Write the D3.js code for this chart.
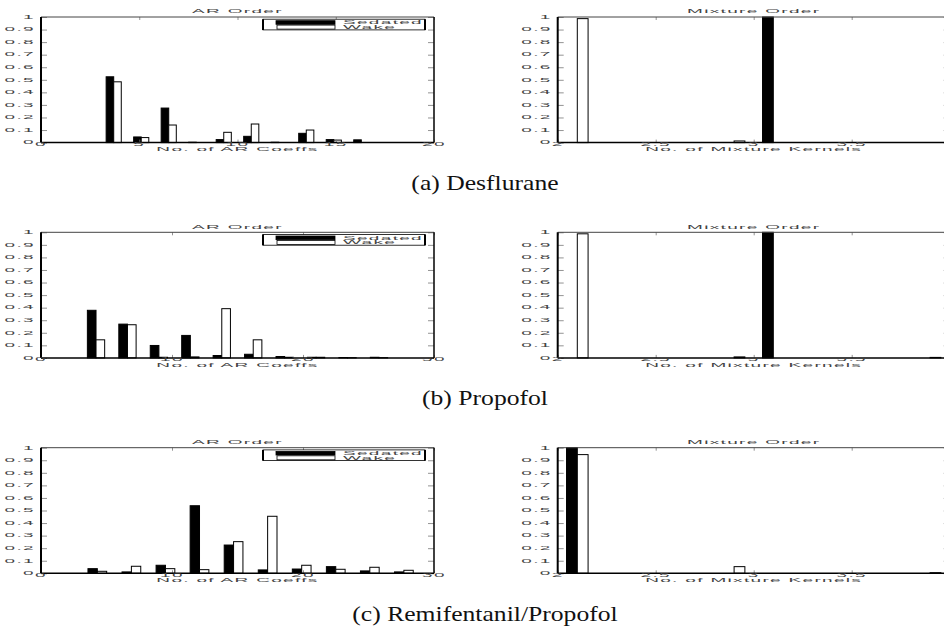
<!DOCTYPE html>
<html>
<head>
<meta charset="utf-8">
<script src="https://cdn.jsdelivr.net/npm/d3@7"></script>
<style>
    body { margin: 0; background: #fff; }
    svg { display: block; }
    .lbl { font-family: "Liberation Sans", Arial, sans-serif; font-size: 10px; fill: #444; letter-spacing: 0.7px; }
    .cap { font-family: "Liberation Serif", serif; font-size: 21px; fill: #111; }
</style>
</head>
<body>
<svg id="chart" width="944" height="630"></svg>
<script>
// --- data (histogram bin centres and relative frequencies) ---
const arBinsA = [3.7, 5.1, 6.5, 7.9, 9.3, 10.7, 12.1, 13.5, 14.9, 16.3];
const arSedatedA = [0.524, 0.045, 0.275, 0.003, 0.024, 0.050, 0.003, 0.074, 0.024, 0.022];
const arWakeA    = [0.484, 0.040, 0.140, 0.000, 0.082, 0.148, 0.000, 0.100, 0.020, 0.000];

const arBinsB = [4.2, 6.6, 9.0, 11.4, 13.8, 16.2, 18.6, 21.0, 23.4, 25.8];
const arSedatedB = [0.379, 0.269, 0.099, 0.179, 0.019, 0.029, 0.011, 0.005, 0.003, 0.005];
const arWakeB    = [0.144, 0.264, 0.005, 0.008, 0.392, 0.144, 0.005, 0.005, 0.002, 0.002];

const arBinsC = [4.3, 6.9, 9.5, 12.1, 14.7, 17.3, 19.9, 22.5, 25.1, 27.7];
const arSedatedC = [0.037, 0.011, 0.064, 0.538, 0.225, 0.027, 0.034, 0.053, 0.019, 0.011];
const arWakeC    = [0.016, 0.056, 0.037, 0.029, 0.252, 0.454, 0.064, 0.032, 0.048, 0.024];

const mixBins = [2.1, 2.3, 2.5, 2.7, 2.9, 3.1, 3.3, 3.5, 3.7, 3.9];
const mixSedatedA = [0, 0, 0, 0, 0, 1.0, 0, 0, 0, 0];
const mixWakeA    = [0.987, 0, 0, 0, 0.013, 0, 0, 0, 0, 0];
const mixSedatedB = [0, 0, 0, 0, 0, 1.0, 0, 0, 0, 0];
const mixWakeB    = [0.988, 0, 0, 0, 0.008, 0, 0, 0, 0, 0.004];
const mixSedatedC = [1.0, 0, 0, 0, 0, 0, 0, 0, 0, 0];
const mixWakeC    = [0.945, 0, 0, 0, 0.053, 0, 0, 0, 0, 0.005];

const yTicks = [0, 0.1, 0.2, 0.3, 0.4, 0.5, 0.6, 0.7, 0.8, 0.9, 1];
const yTickLabels = ["0", "0.1", "0.2", "0.3", "0.4", "0.5", "0.6", "0.7", "0.8", "0.9", "1"];
const arTicksA = [0, 5, 10, 15, 20];
const arTicksBC = [0, 10, 20, 30];
const mixTicks = [2, 2.5, 3, 3.5, 4];
// the "4" label falls outside the cropped figure
const mixTickLabels = ["2", "2.5", "3", "3.5"];
const seriesNames = ["Sedated", "Wake"];
const captions = ["(a)  Desflurane", "(b)  Propofol", "(c)  Remifentanil/Propofol"];

// --- layout ---
const svg = d3.select("#chart");
const cols = [{ x0: 41, x1: 434 }, { x0: 557.7, x1: 949.7 }];
const rowTops = [17, 232.3, 447.7];
const plotH = 125.6;
const BAR_FRAC = 0.275;
const SX = 1.9, SY = 0.5;   // the MATLAB export squashes its text

function flatText(g, x, y, str, anchor) {
    return g.append("text").attr("class", "lbl")
        .attr("text-anchor", anchor || "middle")
        .attr("transform", `translate(${x},${y}) scale(${SX},${SY})`)
        .text(str);
}

function drawPanel(p) {
    const g = svg.append("g");
    const x = d3.scaleLinear().domain(p.xDomain).range([p.col.x0, p.col.x1]);
    const y = d3.scaleLinear().domain([0, 1]).range([p.top + plotH, p.top]);
    const bw = (p.bins[1] - p.bins[0]) * BAR_FRAC;

    // bars: sedated left (black), wake right (white)
    [p.sed, p.wake].forEach((vals, s) => {
        g.selectAll(null).data(vals).join("rect")
            .attr("x", (d, i) => s === 0 ? x(p.bins[i] - bw) : x(p.bins[i]))
            .attr("width", x(p.xDomain[0] + bw) - x(p.xDomain[0]))
            .attr("y", d => y(d))
            .attr("height", d => y(0) - y(d))
            .attr("fill", s === 0 ? "#000" : "#fff")
            .attr("stroke", "#000").attr("stroke-width", 1);
    });

    // ticks
    const yAxL = g.append("g").attr("transform", `translate(${p.col.x0},0)`)
        .call(d3.axisRight(y).tickValues(yTicks).tickSize(6).tickFormat(""));
    const yAxR = g.append("g").attr("transform", `translate(${p.col.x1},0)`)
        .call(d3.axisLeft(y).tickValues(yTicks).tickSize(6).tickFormat(""));
    const xAxB = g.append("g").attr("transform", `translate(0,${p.top + plotH})`)
        .call(d3.axisTop(x).tickValues(p.xTicks).tickSize(3).tickFormat(""));
    const xAxT = g.append("g").attr("transform", `translate(0,${p.top})`)
        .call(d3.axisBottom(x).tickValues(p.xTicks).tickSize(3).tickFormat(""));
    [yAxL, yAxR, xAxB, xAxT].forEach(a => {
        a.select(".domain").remove();
        a.selectAll("line").attr("stroke", "#777").attr("stroke-width", 0.8);
    });

    // box
    g.append("line").attr("x1", p.col.x0).attr("x2", p.col.x1).attr("y1", p.top).attr("y2", p.top)
        .attr("stroke", "#444").attr("stroke-width", 1);
    g.append("line").attr("x1", p.col.x1).attr("x2", p.col.x1).attr("y1", p.top).attr("y2", p.top + plotH)
        .attr("stroke", "#111").attr("stroke-width", 1.6);
    g.append("line").attr("x1", p.col.x0).attr("x2", p.col.x1).attr("y1", p.top + plotH).attr("y2", p.top + plotH)
        .attr("stroke", "#000").attr("stroke-width", 1.5);
    g.append("line").attr("x1", p.col.x0).attr("x2", p.col.x0).attr("y1", p.top).attr("y2", p.top + plotH)
        .attr("stroke", "#000").attr("stroke-width", 2);

    // tick labels
    yTicks.forEach((t, i) => flatText(g, p.col.x0 - 6, y(t) + 1.8, yTickLabels[i], "end"));
    p.xLabels.forEach((lab, i) => flatText(g, x(p.xTicks[i]), p.top + plotH + 3.4, lab));

    flatText(g, (p.col.x0 + p.col.x1) / 2, p.top - 3.6, p.title);
    flatText(g, (p.col.x0 + p.col.x1) / 2, p.top + plotH + 8.6, p.xTitle);

    if (p.legend) {
        const lx = 263, ly = p.top + 2.2;
        g.append("rect").attr("x", lx).attr("y", ly).attr("width", 162).attr("height", 10.7)
            .attr("fill", "#fff").attr("stroke", "#000").attr("stroke-width", 0.8);
        [lx, lx + 162].forEach(xx => g.append("line").attr("x1", xx).attr("x2", xx)
            .attr("y1", ly).attr("y2", ly + 10.7).attr("stroke", "#000").attr("stroke-width", 2));
        g.append("rect").attr("x", lx + 13).attr("y", ly + 1.5).attr("width", 59).attr("height", 3.6)
            .attr("fill", "#000").attr("stroke", "#000").attr("stroke-width", 0.8);
        g.append("rect").attr("x", lx + 14).attr("y", ly + 5.9).attr("width", 58).attr("height", 4)
            .attr("fill", "#fff").attr("stroke", "#000").attr("stroke-width", 0.8);
        flatText(g, lx + 80, ly + 5.2, seriesNames[0], "start");
        flatText(g, lx + 80, ly + 9.9, seriesNames[1], "start");
    }
}

const arData = [
    { bins: arBinsA, sed: arSedatedA, wake: arWakeA, dom: [0, 20], ticks: arTicksA },
    { bins: arBinsB, sed: arSedatedB, wake: arWakeB, dom: [0, 30], ticks: arTicksBC },
    { bins: arBinsC, sed: arSedatedC, wake: arWakeC, dom: [0, 30], ticks: arTicksBC },
];
const mixData = [
    { sed: mixSedatedA, wake: mixWakeA },
    { sed: mixSedatedB, wake: mixWakeB },
    { sed: mixSedatedC, wake: mixWakeC },
];

rowTops.forEach((top, r) => {
    const a = arData[r];
    drawPanel({
        col: cols[0], top, xDomain: a.dom, xTicks: a.ticks, xLabels: a.ticks.map(String),
        bins: a.bins, sed: a.sed, wake: a.wake,
        title: "AR Order", xTitle: "No. of AR Coeffs", legend: true
    });
    const m = mixData[r];
    drawPanel({
        col: cols[1], top, xDomain: [2, 4], xTicks: mixTicks, xLabels: mixTickLabels,
        bins: mixBins, sed: m.sed, wake: m.wake,
        title: "Mixture Order", xTitle: "No. of Mixture Kernels", legend: false
    });

    // caption under the row
    const cap = svg.append("text").attr("class", "cap")
        .attr("x", 485).attr("y", top + 173).attr("text-anchor", "middle")
        .text(captions[r]);
    const natural = cap.node().getComputedTextLength();
    cap.attr("textLength", natural * 1.22).attr("lengthAdjust", "spacingAndGlyphs");
});
</script>
</body>
</html>
